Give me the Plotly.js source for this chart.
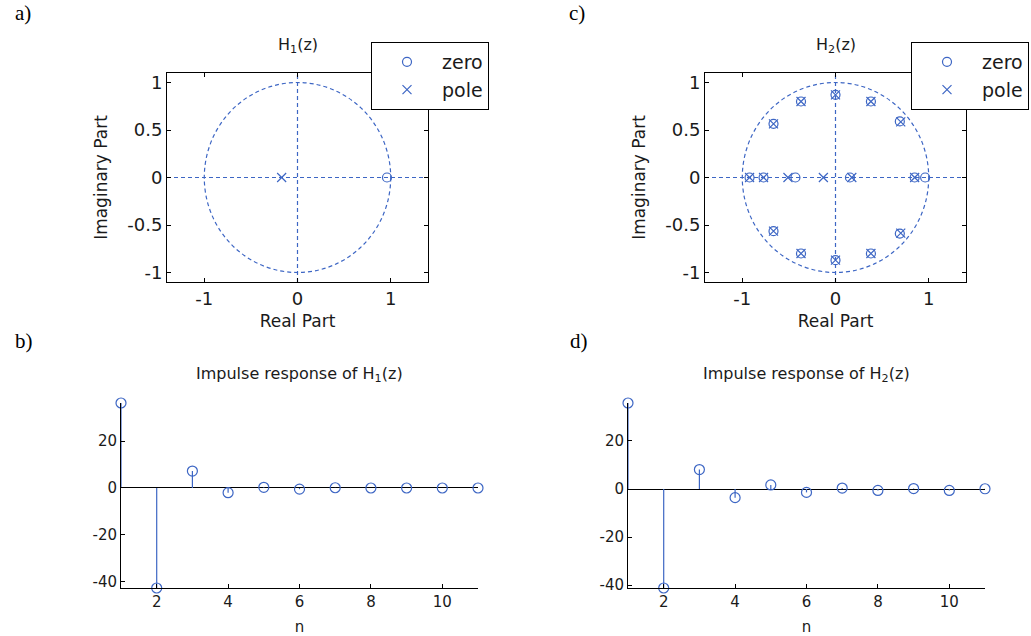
<!DOCTYPE html>
<html>
<head>
<meta charset="utf-8">
<script src="https://cdn.plot.ly/plotly-3.0.1.min.js"></script>
<style>
  html, body { margin: 0; padding: 0; background: #fff; }
  #chart { width: 1031px; height: 636px; }
</style>
</head>
<body>
<div id="chart"></div>
<script>
// ---------- data ----------
const h1ZeroRe = [0.96];
const h1ZeroIm = [0];
const h1PoleRe = [-0.17];
const h1PoleIm = [0];

const h2ZeroRe = [0, 0, -0.37, -0.37, 0.38, 0.38, -0.665, -0.665, 0.69, 0.69, -0.922, -0.772, -0.43, 0.155, 0.849, 0.962];
const h2ZeroIm = [0.87, -0.87, 0.8, -0.8, 0.8, -0.8, 0.565, -0.565, 0.59, -0.59, 0, 0, 0, 0, 0, 0];
const h2PoleRe = [0, 0, -0.37, -0.37, 0.38, 0.38, -0.665, -0.665, 0.70, 0.70, -0.922, -0.772, -0.51, -0.13, 0.175, 0.849];
const h2PoleIm = [0.87, -0.87, 0.8, -0.8, 0.8, -0.8, 0.565, -0.565, 0.585, -0.585, 0, 0, 0, 0, 0, 0];

const nIdx = [1, 2, 3, 4, 5, 6, 7, 8, 9, 10, 11];
const h1Resp = [36.2, -42.6, 7.2, -2.0, 0.3, -0.5, 0.1, 0, 0, 0, 0];
const h2Resp = [35.8, -41.2, 8.1, -3.6, 1.7, -1.4, 0.4, -0.6, 0.2, -0.6, 0.1];

const reTickVals = [-1, 0, 1];
const reTickText = ['-1', '0', '1'];
const imTickVals = [-1, -0.5, 0, 0.5, 1];
const imTickText = ['-1', '-0.5', '0', '0.5', '1'];
const nTickVals = [2, 4, 6, 8, 10];
const nTickText = ['2', '4', '6', '8', '10'];
const hTickVals = [-40, -20, 0, 20];
const hTickText = ['-40', '-20', '0', '20'];

const panelLabels = ['a)', 'b)', 'c)', 'd)'];
const zTitles = ['H<sub>1</sub>(z)', 'H<sub>2</sub>(z)'];
const hTitles = ['Impulse response of H<sub>1</sub>(z)', 'Impulse response of H<sub>2</sub>(z)'];
const legendNames = ['zero', 'pole'];

// ---------- style ----------
const BLUE = '#3d66c4';
const TXT = '#1a1a1a';
const SANS = 'DejaVu Sans, sans-serif';
const SERIF = 'Liberation Serif, Times New Roman, serif';
const W = 1031, H = 636;
const px = v => v / W;
const py = v => 1 - v / H;

function stemXY(xs, ys) {
  const sx = [], sy = [];
  xs.forEach((x, i) => { sx.push(x, x, null); sy.push(0, ys[i], null); });
  return { sx, sy };
}

const traces = [];
function zTraces(zr, zi, pr, pi, xa, ya, leg) {
  traces.push({
    type: 'scatter', mode: 'markers', x: zr, y: zi, xaxis: xa, yaxis: ya,
    name: legendNames[0], legend: leg,
    marker: { symbol: 'circle-open', size: 9, color: BLUE, line: { width: 1.2, color: BLUE } },
    cliponaxis: false, hoverinfo: 'x+y'
  });
  traces.push({
    type: 'scatter', mode: 'markers', x: pr, y: pi, xaxis: xa, yaxis: ya,
    name: legendNames[1], legend: leg,
    marker: { symbol: 'x-thin-open', size: 9, color: BLUE, line: { width: 1.2, color: BLUE } },
    cliponaxis: false, hoverinfo: 'x+y'
  });
}
zTraces(h1ZeroRe, h1ZeroIm, h1PoleRe, h1PoleIm, 'x', 'y', 'legend');
zTraces(h2ZeroRe, h2ZeroIm, h2PoleRe, h2PoleIm, 'x2', 'y2', 'legend2');

function stemTraces(xs, ys, xa, ya) {
  const s = stemXY(xs, ys);
  traces.push({
    type: 'scatter', mode: 'lines', x: s.sx, y: s.sy, xaxis: xa, yaxis: ya,
    line: { color: BLUE, width: 1.2 }, showlegend: false, hoverinfo: 'skip', cliponaxis: false
  });
  traces.push({
    type: 'scatter', mode: 'markers', x: xs, y: ys, xaxis: xa, yaxis: ya,
    marker: { symbol: 'circle-open', size: 10, color: BLUE, line: { width: 1.2, color: BLUE } },
    showlegend: false, cliponaxis: false
  });
}
stemTraces(nIdx, h1Resp, 'x3', 'y3');
stemTraces(nIdx, h2Resp, 'x4', 'y4');

// ---------- axes ----------
const tickFontTop = { family: SANS, size: 18, color: TXT };
const tickFontBot = { family: SANS, size: 15, color: TXT };
const labFont = { family: SANS, size: 17, color: TXT };

function zAxisX(dom, anchor) {
  return {
    domain: dom, anchor: anchor, range: [-1.4, 1.4],
    tickvals: reTickVals, ticktext: reTickText,
    ticks: 'inside', ticklen: 4, tickcolor: '#000', tickwidth: 1,
    showline: true, linecolor: '#000', linewidth: 1, mirror: 'ticks',
    showgrid: false, zeroline: false, tickfont: tickFontTop,
    title: { text: 'Real Part', font: labFont, standoff: 7 }
  };
}
function zAxisY(dom, anchor) {
  return {
    domain: dom, anchor: anchor, range: [-1.1, 1.1],
    tickvals: imTickVals, ticktext: imTickText,
    ticks: 'inside', ticklen: 4, tickcolor: '#000', tickwidth: 1,
    showline: true, linecolor: '#000', linewidth: 1, mirror: 'ticks',
    showgrid: false, zeroline: false, tickfont: tickFontTop,
    title: { text: 'Imaginary Part', font: labFont, standoff: 15 }
  };
}
function hAxisX(dom, anchor) {
  return {
    domain: dom, anchor: anchor, range: [nIdx[0], nIdx[nIdx.length - 1]],
    tickvals: nTickVals, ticktext: nTickText,
    ticks: 'inside', ticklen: 4, tickcolor: '#000', tickwidth: 1,
    showline: true, linecolor: '#000', linewidth: 1, mirror: false,
    showgrid: false, zeroline: false, tickfont: tickFontBot,
    title: { text: 'n', font: { family: SANS, size: 15, color: TXT }, standoff: 12 }
  };
}
function hAxisY(dom, anchor, ys) {
  return {
    domain: dom, anchor: anchor, range: [Math.min(...ys), Math.max(...ys)],
    tickvals: hTickVals, ticktext: hTickText,
    ticks: 'inside', ticklen: 4, tickcolor: '#000', tickwidth: 1,
    showline: true, linecolor: '#000', linewidth: 1, mirror: false,
    showgrid: false, zeroline: true, zerolinecolor: '#000', zerolinewidth: 1,
    tickfont: tickFontBot
  };
}

const topY = [py(282), py(73)];
const botY = [py(588), py(403)];
const d1x = [px(167), px(428)];
const d2x = [px(705), px(966)];
const d3x = [px(121), px(478)];
const d4x = [px(628), px(985)];

// ---------- shapes: unit circle + dashed axes ----------
const shapes = [];
[['x', 'y'], ['x2', 'y2']].forEach(([xa, ya]) => {
  shapes.push({ type: 'circle', xref: xa, yref: ya, x0: -1, x1: 1, y0: -1, y1: 1,
    line: { color: BLUE, width: 1.2, dash: '4px,3px' }, layer: 'below' });
  shapes.push({ type: 'line', xref: xa + ' domain', yref: ya, x0: 0, x1: 1, y0: 0, y1: 0,
    line: { color: BLUE, width: 1.2, dash: '4px,3px' }, layer: 'below' });
  shapes.push({ type: 'line', xref: xa, yref: ya + ' domain', x0: 0, x1: 0, y0: 0, y1: 1,
    line: { color: BLUE, width: 1.2, dash: '4px,3px' }, layer: 'below' });
});

// ---------- annotations ----------
const annotations = [];
const panelPos = [[13, 27], [13, 355], [567, 27], [568, 355]];
panelLabels.forEach((t, i) => {
  annotations.push({ text: t, xref: 'paper', yref: 'paper', x: px(panelPos[i][0]), y: py(panelPos[i][1]),
    xanchor: 'left', yanchor: 'bottom', showarrow: false, font: { family: SERIF, size: 21, color: '#000' } });
});
const zTitlePos = [[297.5, 46], [835.5, 46]];
zTitles.forEach((t, i) => {
  annotations.push({ text: t, xref: 'paper', yref: 'paper', x: px(zTitlePos[i][0]), y: py(zTitlePos[i][1]),
    xanchor: 'center', yanchor: 'middle', showarrow: false, font: { family: SANS, size: 16, color: TXT } });
});
const hTitlePos = [[299.5, 374], [806.5, 374]];
hTitles.forEach((t, i) => {
  annotations.push({ text: t, xref: 'paper', yref: 'paper', x: px(hTitlePos[i][0]), y: py(hTitlePos[i][1]),
    xanchor: 'center', yanchor: 'middle', showarrow: false, font: { family: SANS, size: 16, color: TXT } });
});

const legStyle = (x) => ({
  x: px(x), y: py(42), xanchor: 'left', yanchor: 'top',
  bgcolor: '#fff', bordercolor: '#000', borderwidth: 1,
  font: { family: SANS, size: 19, color: TXT }, itemwidth: 60
});

const layout = {
  width: W, height: H,
  margin: { l: 0, r: 0, t: 0, b: 0 },
  paper_bgcolor: '#fff', plot_bgcolor: '#fff',
  showlegend: true,
  legend: legStyle(371),
  legend2: legStyle(911),
  xaxis: zAxisX(d1x, 'y'), yaxis: zAxisY(topY, 'x'),
  xaxis2: zAxisX(d2x, 'y2'), yaxis2: zAxisY(topY, 'x2'),
  xaxis3: hAxisX(d3x, 'y3'), yaxis3: hAxisY(botY, 'x3', h1Resp),
  xaxis4: hAxisX(d4x, 'y4'), yaxis4: hAxisY(botY, 'x4', h2Resp),
  shapes: shapes,
  annotations: annotations
};

Plotly.newPlot('chart', traces, layout, { displayModeBar: false, staticPlot: true });
</script>
</body>
</html>
